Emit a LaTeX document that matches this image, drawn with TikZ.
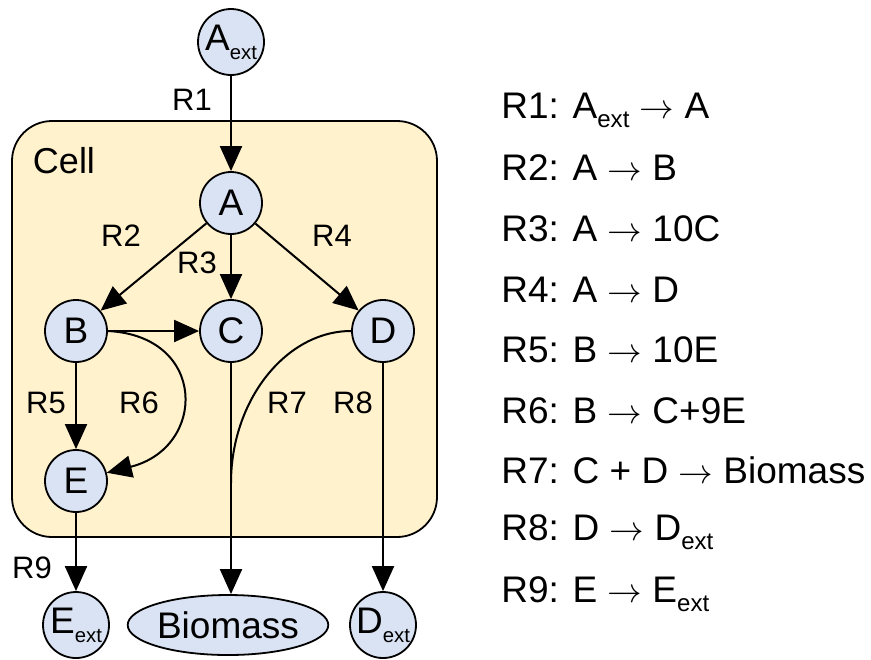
\documentclass[tikz,border=0pt]{standalone}
\usepackage{fontspec}
\setmainfont{Liberation Sans}
\usepackage{xcolor}
\usepackage{tikz}
\usetikzlibrary{shapes.geometric,arrows.meta}

\definecolor{cellfill}{HTML}{FFF2CC}
\definecolor{metfill}{HTML}{DAE3F3}
\newcommand{\fsz}[1]{\fontsize{#1}{#1}\selectfont}
\newcommand{\ext}[1][0.55]{\raisebox{-0.25em}{\scalebox{#1}{ext}}}
\newcommand{\yields}{$\rightarrow$}

\tikzset{
  met/.style={circle, draw, line width=0.9pt, fill=metfill,
    minimum size=31pt, inner sep=0pt, font=\fsz{18.5pt}},
  rxn/.style={-{Triangle[length=12.5pt,width=11pt]}, line width=1pt},
  rlabel/.style={font=\fsz{15.5pt}, inner sep=0pt},
  eqline/.style={anchor=base west, font=\fsz{18.5pt}, inner sep=0pt}
}

\begin{document}
\begin{tikzpicture}[x=0.5pt, y=-0.5pt]
  \useasboundingbox (0,0) rectangle (871,659);

  %% Cell compartment
  \draw[rounded corners=20pt, line width=0.9pt, fill=cellfill]
    (12,121) rectangle (437,537);
  \node[font=\fsz{18pt}, inner sep=0pt] (cell) at (64,161) {Cell};

  %% Metabolites
  \node[met, minimum size=33pt] (Aext) at (231,42) {A\ext};
  \node[met] (A) at (231,203) {A};
  \node[met] (B) at (76,331) {B};
  \node[met] (C) at (231,331) {C};
  \node[met] (D) at (383,331) {D};
  \node[met] (E) at (76,481) {E};
  \node[met, minimum size=33pt] (Eext) at (76,625) {E\ext};
  \node[met, ellipse, minimum width=97pt, minimum height=30pt] (bio) at (228,625) {Biomass};
  \node[met, minimum size=33pt] (Dext) at (383,625) {D\ext};

  %% Reactions
  \draw[rxn] (Aext) -- (A);
  \draw[rxn] (A) -- (B);
  \draw[rxn] (A) -- (C);
  \draw[rxn] (A) -- (D);
  \draw[rxn] (B) -- (C);
  \draw[rxn] (B) -- (E);
  \draw[rxn] (B.east) .. controls +(100,5) and +(100,-25) .. (E.15);
  \coordinate (join) at (231,483);
  \draw[line width=1pt] (D.west) .. controls +(-65,0) and +(0,-83) .. (join);
  \draw[rxn] (C) -- (C |- bio.north);
  \draw[rxn] (D) -- (Dext);
  \draw[rxn] (E) -- (Eext);

  %% Reaction labels
  \node[rlabel] (r1) at (192,100) {R1};
  \node[rlabel] (r2) at (121,236) {R2};
  \node[rlabel] (r3) at (197,263) {R3};
  \node[rlabel] (r4) at (332,236) {R4};
  \node[rlabel] (r5) at (46,403) {R5};
  \node[rlabel] (r6) at (139,403) {R6};
  \node[rlabel] (r7) at (287,403) {R7};
  \node[rlabel] (r8) at (353,403) {R8};
  \node[rlabel] (r9) at (32,568) {R9};

  %% Reaction list
  \node[eqline] (eq1) at (501,118) {R1: A\ext[0.65] \yields{} A};
  \node[eqline] (eq2) at (501,180) {R2: A \yields{} B};
  \node[eqline] (eq3) at (501,241) {R3: A \yields{} 10C};
  \node[eqline] (eq4) at (501,302) {R4: A \yields{} D};
  \node[eqline] (eq5) at (501,362) {R5: B \yields{} 10E};
  \node[eqline] (eq6) at (501,423) {R6: B \yields{} C+9E};
  \node[eqline] (eq7) at (501,483) {R7: C + D \yields{} Biomass};
  \node[eqline] (eq8) at (501,540) {R8: D \yields{} D\ext[0.65]};
  \node[eqline] (eq9) at (501,602) {R9: E \yields{} E\ext[0.65]};
\end{tikzpicture}
\end{document}
